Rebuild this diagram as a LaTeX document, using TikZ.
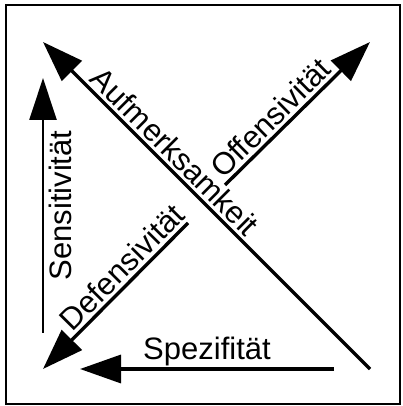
\documentclass[tikz,border=0pt]{standalone}
\usepackage{fontspec}
\setmainfont{Liberation Sans}
\usetikzlibrary{arrows.meta}

\begin{document}
\begin{tikzpicture}[x=1pt, y=1pt,
  axis/.style={-{Triangle[length=41pt, width=28pt]}, line width=3.4pt},
  thin axis/.style={-{Triangle[length=42pt, width=27pt]}, line width=2.4pt},
  lbl/.style={font=\fontsize{31}{36}\selectfont, inner sep=0pt}
]
\useasboundingbox (0,0) rectangle (402,406);
\draw[line width=2pt] (6,2) rectangle (400,401);

% end points of the five axes
\coordinate (aufStart) at (370,37);
\coordinate (aufTip) at (43,364);
\coordinate (offStart) at (225,221);
\coordinate (offTip) at (370,364);
\coordinate (defStart) at (188,183);
\coordinate (defTip) at (43,37);
\coordinate (senStart) at (43,73);
\coordinate (senTip) at (43,328);
\coordinate (speStart) at (334,37);
\coordinate (speTip) at (80,37);

\draw[axis] (aufStart) -- (aufTip)
  node[lbl, pos=0.63, sloped, above=3pt] (auf) {Aufmerksamkeit};
\draw[axis] (offStart) -- (offTip)
  node[lbl, pos=0.39, sloped, above=3pt] (off) {Offensivität};
\draw[axis] (defStart) -- (defTip)
  node[lbl, pos=0.38, sloped, above=3pt] (def) {Defensivität};
\draw[thin axis] (senStart) -- (senTip)
  node[lbl, pos=0.5, sloped, below=5pt] (sen) {Sensitivität};
\draw[axis] (speStart) -- (speTip)
  node[lbl, pos=0.5, above=1pt] (spe) {Spezifität};
\end{tikzpicture}
\end{document}
